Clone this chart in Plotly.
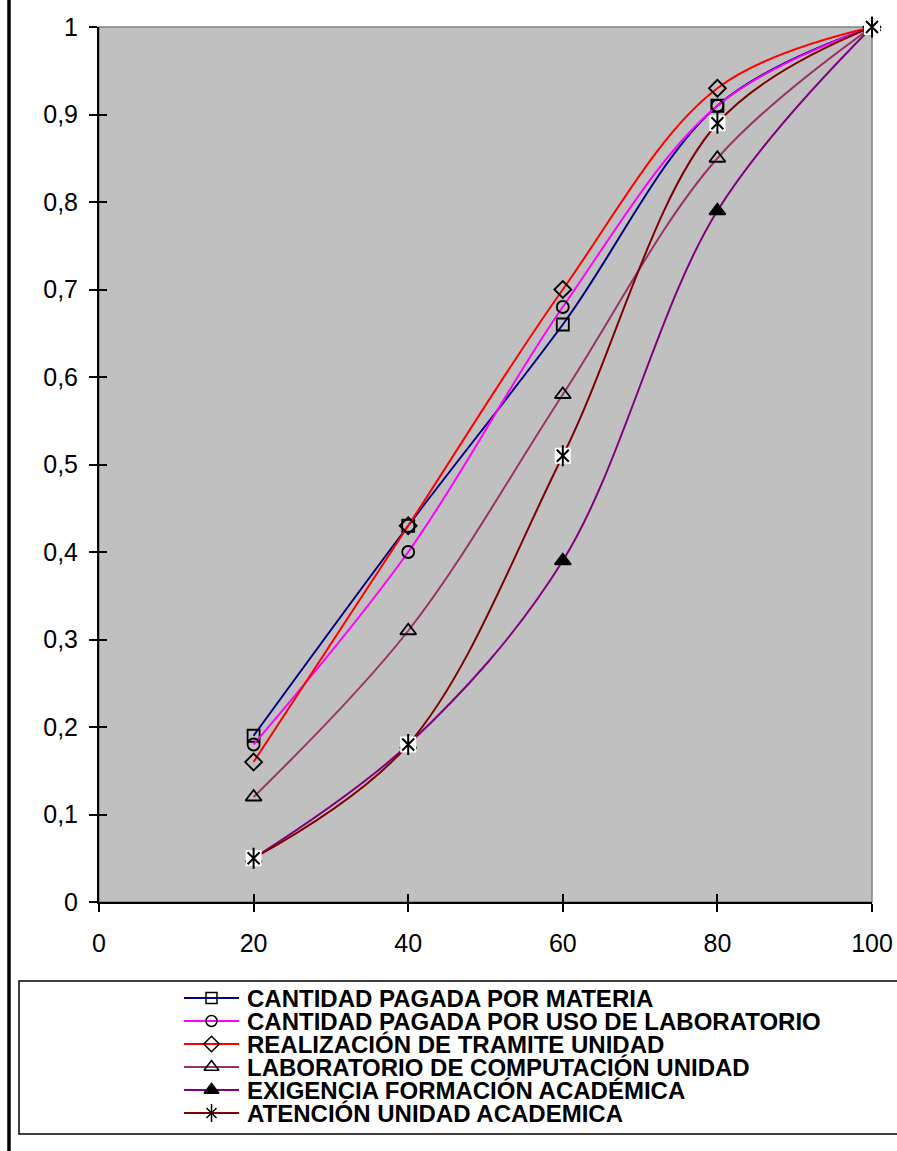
import plotly.graph_objects as go

# ---------------- data ----------------
x_vals = [20, 40, 60, 80, 100]
materia = [0.19, 0.43, 0.66, 0.91, 1.0]
uso_lab = [0.18, 0.40, 0.68, 0.91, 1.0]
tramite = [0.16, 0.43, 0.70, 0.93, 1.0]
lab_comp = [0.12, 0.31, 0.58, 0.85, 1.0]
exigencia = [0.05, 0.18, 0.39, 0.79, 1.0]
atencion = [0.05, 0.18, 0.51, 0.89, 1.0]

names = [
    "CANTIDAD PAGADA POR MATERIA",
    "CANTIDAD PAGADA POR USO DE LABORATORIO",
    "REALIZACIÓN DE TRAMITE UNIDAD",
    "LABORATORIO DE COMPUTACIÓN UNIDAD",
    "EXIGENCIA FORMACIÓN ACADÉMICA",
    "ATENCIÓN UNIDAD ACADEMICA",
]
series = [materia, uso_lab, tramite, lab_comp, exigencia, atencion]

x_ticks = [0, 20, 40, 60, 80, 100]
y_ticks = [0, 0.1, 0.2, 0.3, 0.4, 0.5, 0.6, 0.7, 0.8, 0.9, 1.0]

# ---------------- styles ----------------
colors = ["#000080", "#FF00FF", "#FF0000", "#993366", "#800080", "#800000"]
symbols = ["square-open", "circle-open", "diamond-open", "triangle-up-open", "triangle-up", None]
sizes = [12, 12, 13, 14, 14, 12]
FONT = "Liberation Sans, Arial, sans-serif"

W, H = 897, 1151
ML, MR, MT, MB = 99, 25, 27, 11
plot_w = W - ML - MR            # 773
paper_h = H - MT - MB           # 1113
main_bottom_px = 902
y_dom0 = (H - MB - main_bottom_px) / paper_h
leg_top_px = 975
y3_dom1 = (H - MB - leg_top_px) / paper_h

def px_x(px):
    return (px - ML) / plot_w

def px_y(py):
    return (H - MB - py) / paper_h

fig = go.Figure()

# main series
for i, (nm, ys) in enumerate(zip(names, series)):
    sym = symbols[i]
    fig.add_trace(go.Scatter(
        x=x_vals, y=ys, name=nm, mode="lines" if sym is None else "lines+markers",
        line=dict(color=colors[i], width=2, shape="spline", smoothing=1.0),
        marker=dict(symbol=sym, size=sizes[i], color="black",
                    line=dict(color="black", width=1.8)) if sym else None,
        showlegend=False, hoverinfo="x+y+name", cliponaxis=False,
    ))
    if sym is None:
        # star marker: white box + x + vertical bar
        fig.add_trace(go.Scatter(x=x_vals, y=ys, mode="markers", showlegend=False,
                                 hoverinfo="skip", cliponaxis=False,
                                 marker=dict(symbol="square", size=16, color="white",
                                             line=dict(width=0))))
        fig.add_trace(go.Scatter(x=x_vals, y=ys, mode="markers", showlegend=False,
                                 hoverinfo="skip", cliponaxis=False,
                                 marker=dict(symbol="x-thin-open", size=12, color="black",
                                             line=dict(color="black", width=2))))
        fig.add_trace(go.Scatter(x=x_vals, y=ys, mode="markers", showlegend=False,
                                 hoverinfo="skip", cliponaxis=False,
                                 marker=dict(symbol="line-ns-open", size=15, color="black",
                                             line=dict(color="black", width=2))))

# dummy trace for crossing ticks axes
fig.add_trace(go.Scatter(x=[None], y=[None], xaxis="x2", yaxis="y2",
                         showlegend=False, hoverinfo="skip"))

# manual legend (keys on auxiliary axes x3/y3 in pixel units)
leg_rows = [998, 1021, 1044, 1067, 1090, 1113]
key_x = [184, 211.5, 239]
text_x = 246
annotations = []
for i, nm in enumerate(names):
    ry = leg_rows[i]
    fig.add_trace(go.Scatter(x=key_x, y=[ry] * 3, xaxis="x3", yaxis="y3",
                             mode="lines", line=dict(color=colors[i], width=2),
                             showlegend=False, hoverinfo="skip"))
    if symbols[i]:
        fig.add_trace(go.Scatter(x=[key_x[1]], y=[ry], xaxis="x3", yaxis="y3",
                                 mode="markers", showlegend=False, hoverinfo="skip",
                                 marker=dict(symbol=symbols[i], size=sizes[i] - 1, color="black",
                                             line=dict(color="black", width=1.5))))
    else:
        fig.add_trace(go.Scatter(x=[key_x[1]], y=[ry], xaxis="x3", yaxis="y3",
                                 mode="markers", showlegend=False, hoverinfo="skip",
                                 marker=dict(symbol="x-thin-open", size=10, color="black",
                                             line=dict(color="black", width=1.5))))
        fig.add_trace(go.Scatter(x=[key_x[1]], y=[ry], xaxis="x3", yaxis="y3",
                                 mode="markers", showlegend=False, hoverinfo="skip",
                                 marker=dict(symbol="line-ns-open", size=13, color="black",
                                             line=dict(color="black", width=1.5))))
    annotations.append(dict(x=text_x, y=ry, xref="x3", yref="y3", text=nm,
                            showarrow=False, xanchor="left", yanchor="middle",
                            borderpad=0,
                            font=dict(family=FONT, size=24, color="black", weight="bold")))

shapes = [
    # plot area (gray fill, gray top/right frame)
    dict(type="rect", xref="x domain", yref="y domain", x0=0, x1=1, y0=0, y1=1,
         line=dict(color="#808080", width=1.5), fillcolor="#C0C0C0", layer="below"),
    # legend box
    dict(type="rect", xref="paper", yref="paper", x0=px_x(19), x1=px_x(910),
         y0=px_y(1134), y1=px_y(981), line=dict(color="black", width=1.5),
         fillcolor="rgba(0,0,0,0)"),
    # left page border
    dict(type="line", xref="paper", yref="paper", x0=px_x(9), x1=px_x(9),
         y0=px_y(1160), y1=px_y(-10), line=dict(color="black", width=3.5)),
]

tickfont = dict(family=FONT, size=25, color="black")
fig.update_layout(
    width=W, height=H,
    margin=dict(l=ML, r=MR, t=MT, b=MB, autoexpand=False),
    paper_bgcolor="white", plot_bgcolor="white",
    separators=",.",
    showlegend=False,
    xaxis=dict(domain=[0, 1], range=[0, 100], tickvals=x_ticks, ticks="outside",
               ticklen=8, tickwidth=1.5, tickcolor="black", showline=True,
               linecolor="black", linewidth=2, showgrid=False, zeroline=False,
               tickfont=tickfont, ticklabelstandoff=10, anchor="y", fixedrange=True),
    yaxis=dict(domain=[y_dom0, 1], range=[0, 1], tickvals=y_ticks, ticks="outside",
               ticklen=8, tickwidth=1.5, tickcolor="black", showline=True,
               linecolor="black", linewidth=2, showgrid=False, zeroline=False,
               tickfont=tickfont, ticklabelstandoff=6, anchor="x", fixedrange=True),
    xaxis2=dict(overlaying="x", range=[0, 100], tickvals=x_ticks, ticks="inside",
                ticklen=8, tickwidth=1.5, tickcolor="black", showticklabels=False,
                showline=False, showgrid=False, zeroline=False, anchor="y2", side="bottom"),
    yaxis2=dict(overlaying="y", range=[0, 1], tickvals=y_ticks, ticks="inside",
                ticklen=8, tickwidth=1.5, tickcolor="black", showticklabels=False,
                showline=False, showgrid=False, zeroline=False, anchor="x2", side="left"),
    xaxis3=dict(domain=[0, 1], range=[ML, ML + plot_w], visible=False, anchor="y3",
                fixedrange=True),
    yaxis3=dict(domain=[0, y3_dom1], range=[H - MB, leg_top_px], visible=False,
                anchor="x3", fixedrange=True),
    shapes=shapes,
    annotations=annotations,
)

fig.write_html("out.html", config={"displayModeBar": False},
               post_script="document.body.style.margin='0';")
